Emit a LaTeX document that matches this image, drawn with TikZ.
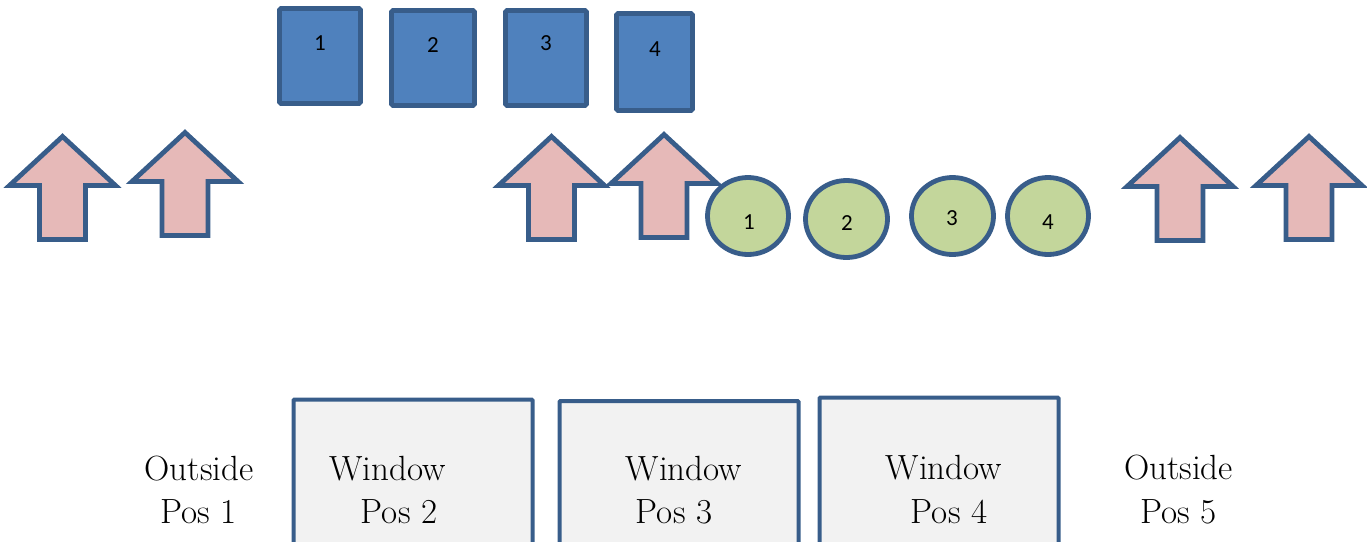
\documentclass[tikz,border=0pt]{standalone}
\usepackage{fontspec}
\newfontfamily\numfont{Carlito}
\usetikzlibrary{shapes.geometric}
\definecolor{edge}{RGB}{56,93,138}
\definecolor{tileblue}{RGB}{79,129,189}
\definecolor{discgreen}{RGB}{195,214,155}
\definecolor{arrowpink}{RGB}{230,185,184}
\definecolor{panegrey}{RGB}{242,242,242}
\begin{document}
\begin{tikzpicture}[x=1pt,y=-1pt,
  outline/.style={draw=edge,line width=4.8pt},
  tile/.style={outline,fill=tileblue,rectangle,rounded corners=1.5pt,inner sep=0pt},
  disc/.style={outline,fill=discgreen,ellipse,inner sep=0pt},
  num/.style={font=\numfont\fontsize{23}{23}\selectfont,inner sep=0pt},
  pane/.style={draw=edge,line width=4pt,fill=panegrey,rectangle,rounded corners=1pt,inner sep=0pt},
  caption/.style={font=\fontsize{35}{35}\selectfont,anchor=base,inner sep=0pt},
  uparrow/.pic={\draw[outline,fill=arrowpink,miter limit=10]
     (-23,0) -- (23,0) -- (23,-54) -- (53,-54) -- (0,-103) -- (-53,-54) -- (-23,-54) -- cycle;
     \coordinate (-base) at (0,0);}
]
\useasboundingbox (0,0) rectangle (1367,541);

% upward arrows
\pic (up1) at (62.5,239.5) {uparrow};
\pic (up2) at (185,235.5) {uparrow};
\pic (up3) at (551.5,239.5) {uparrow};
\pic (up4) at (664,237.5) {uparrow};
\pic (up5) at (1180,240.5) {uparrow};
\pic (up6) at (1309,239.5) {uparrow};

% numbered blue tiles
\node[tile,minimum width=81pt,minimum height=95pt] (sq1) at (320,56) {};
\node[tile,minimum width=83pt,minimum height=95pt] (sq2) at (433,58) {};
\node[tile,minimum width=81pt,minimum height=95pt] (sq3) at (546,58) {};
\node[tile,minimum width=76pt,minimum height=97pt] (sq4) at (654.5,62) {};
\node[num] (sqn1) at (320,43) {1};
\node[num] (sqn2) at (433,45) {2};
\node[num] (sqn3) at (546,43) {3};
\node[num] (sqn4) at (655,49) {4};

% numbered green discs
\node[disc,minimum width=81pt,minimum height=77pt] (c1) at (748,216) {};
\node[disc,minimum width=82pt,minimum height=77pt] (c2) at (846.5,219) {};
\node[disc,minimum width=82pt,minimum height=77pt] (c3) at (952.5,216) {};
\node[disc,minimum width=81pt,minimum height=77pt] (c4) at (1048,216) {};
\node[num] (cn1) at (749,222) {1};
\node[num] (cn2) at (847,223) {2};
\node[num] (cn3) at (952,218) {3};
\node[num] (cn4) at (1048,222) {4};

% window panes
\node[pane,minimum width=239pt,minimum height=148.5pt] (w2) at (413,473.75) {};
\node[pane,minimum width=239pt,minimum height=147pt] (w3) at (679,474.5) {};
\node[pane,minimum width=239pt,minimum height=150.5pt] (w4) at (939,472.75) {};

% position captions
\node[caption] (o1a) at (199,480) {Outside};
\node[caption] (o1b) at (198.5,523) {Pos 1};
\node[caption] (w2a) at (387.5,480) {Window};
\node[caption] (w2b) at (399,523) {Pos 2};
\node[caption] (w3a) at (684,480) {Window};
\node[caption] (w3b) at (674,523) {Pos 3};
\node[caption] (w4a) at (944,479) {Window};
\node[caption] (w4b) at (949,523) {Pos 4};
\node[caption] (o5a) at (1178.5,479) {Outside};
\node[caption] (o5b) at (1178.5,523) {Pos 5};
\end{tikzpicture}
\end{document}
